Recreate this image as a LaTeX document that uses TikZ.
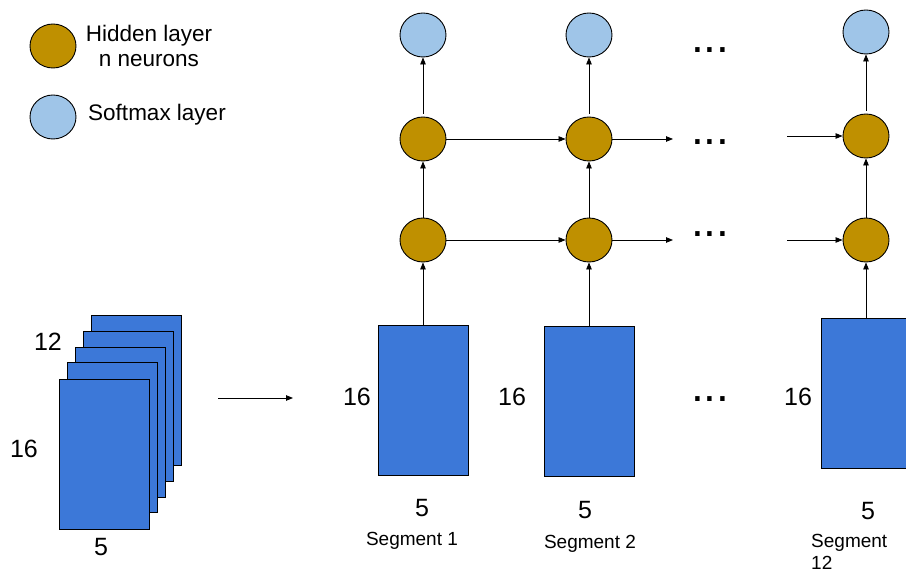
\documentclass[tikz,border=0pt]{standalone}
\usepackage{fontspec}
\setmainfont{Liberation Sans}
\usetikzlibrary{arrows.meta,shapes.geometric}
\definecolor{gold}{HTML}{BF9000}
\definecolor{softblue}{HTML}{9FC5E8}
\definecolor{cardblue}{HTML}{3C78D8}
\tikzset{
  neuron/.style={ellipse,draw=black,line width=0.9pt,inner sep=0pt,minimum width=46pt,minimum height=44pt},
  hid/.style={neuron,fill=gold},
  smx/.style={neuron,fill=softblue},
  card/.style={rectangle,draw=black,line width=0.9pt,fill=cardblue,inner sep=0pt,minimum width=90pt,minimum height=150pt},
  conn/.style={draw=black,line width=0.8pt,-{Triangle[length=7pt,width=5.5pt]}},
  num/.style={inner sep=0pt,font=\fontsize{25}{30}\selectfont},
  seg/.style={inner sep=0pt,anchor=base,font=\fontsize{19}{22}\selectfont},
  leg/.style={inner sep=0pt,anchor=base,font=\fontsize{22.5}{25}\selectfont},
  dots/.style={inner sep=0pt,anchor=base west,font=\fontsize{46}{50}\selectfont},
}
\begin{document}
\begin{tikzpicture}[x=1pt,y=-1pt]
\useasboundingbox (0,0) rectangle (906,572);
\fill[white] (0,0) rectangle (906,572);
% legend
\node[hid] (lh) at (53,46) {};
\node[smx] (ls) at (53,117) {};
\node[leg] (lht1) at (149,42) {Hidden layer};
\node[leg] (lht2) at (149,67) {n neurons};
\node[leg] (lst) at (157,121) {Softmax layer};
% stacked input
\node[card] (k5) at (136.5,390.5) {};
\node[card] (k4) at (128,406.5) {};
\node[card] (k3) at (120.5,422.5) {};
\node[card] (k2) at (112.5,437.5) {};
\node[card] (k1) at (104,454) {};
\node[num] (n12) at (48,342) {12};
\node[num] (n16a) at (24,449) {16};
\node[num] (n5a) at (101,547) {5};
\coordinate (a0) at (218,398);
\coordinate (a1) at (293,398);
\draw[conn] (a0) -- (a1);
% column 1
\node[card] (r1) at (423,400.5) {};
\node[hid] (h11) at (423,240) {};
\node[hid] (h21) at (423,139) {};
\node[smx] (s1) at (423,35) {};
\node[num] (n16b) at (357,397) {16};
\node[num] (n5b) at (422,508) {5};
\node[seg] (sg1) at (412,545) {Segment 1};
% column 2
\node[card] (r2) at (589,401.5) {};
\node[hid] (h12) at (589,240) {};
\node[hid] (h22) at (589,139) {};
\node[smx] (s2) at (589,35) {};
\node[num] (n16c) at (512,397) {16};
\node[num] (n5c) at (585,510) {5};
\node[seg] (sg2) at (590,548) {Segment 2};
% column 12
\node[card] (r3) at (866,393) {};
\node[hid] (h13) at (866,240) {};
\node[hid] (h23) at (866,136) {};
\node[smx] (s3) at (866,32) {};
\node[num] (n16d) at (798,397) {16};
\node[num] (n5d) at (868,511) {5};
\node[seg,anchor=base west] (sg3a) at (811,547) {Segment};
\node[seg,anchor=base west] (sg3b) at (811,569) {12};
% dots
\node[dots] (d1) at (691,53) {...};
\node[dots] (d2) at (691,145) {...};
\node[dots] (d3) at (691,237) {...};
\node[dots] (d4) at (691,401) {...};
% vertical connectors
\draw[conn] (r1.north) -- (h11.south);
\draw[conn] (h11.north) -- (h21.south);
\draw[conn,shorten <=3pt] (h21.north) -- (s1.south);
\draw[conn] (r2.north) -- (h12.south);
\draw[conn] (h12.north) -- (h22.south);
\draw[conn,shorten <=3pt] (h22.north) -- (s2.south);
\draw[conn] (r3.north) -- (h13.south);
\draw[conn] (h13.north) -- (h23.south);
\draw[conn,shorten <=3pt] (h23.north) -- (s3.south);
% horizontal connectors
\draw[conn] (h11.east) -- (h12.west);
\draw[conn] (h21.east) -- (h22.west);
\coordinate (o1) at (673,240);
\coordinate (o2) at (673,139);
\draw[conn] (h12.east) -- (o1);
\draw[conn] (h22.east) -- (o2);
\coordinate (i1) at (787,240);
\coordinate (i2) at (787,136);
\draw[conn] (i1) -- (h13.west);
\draw[conn] (i2) -- (h23.west);
\end{tikzpicture}
\end{document}
